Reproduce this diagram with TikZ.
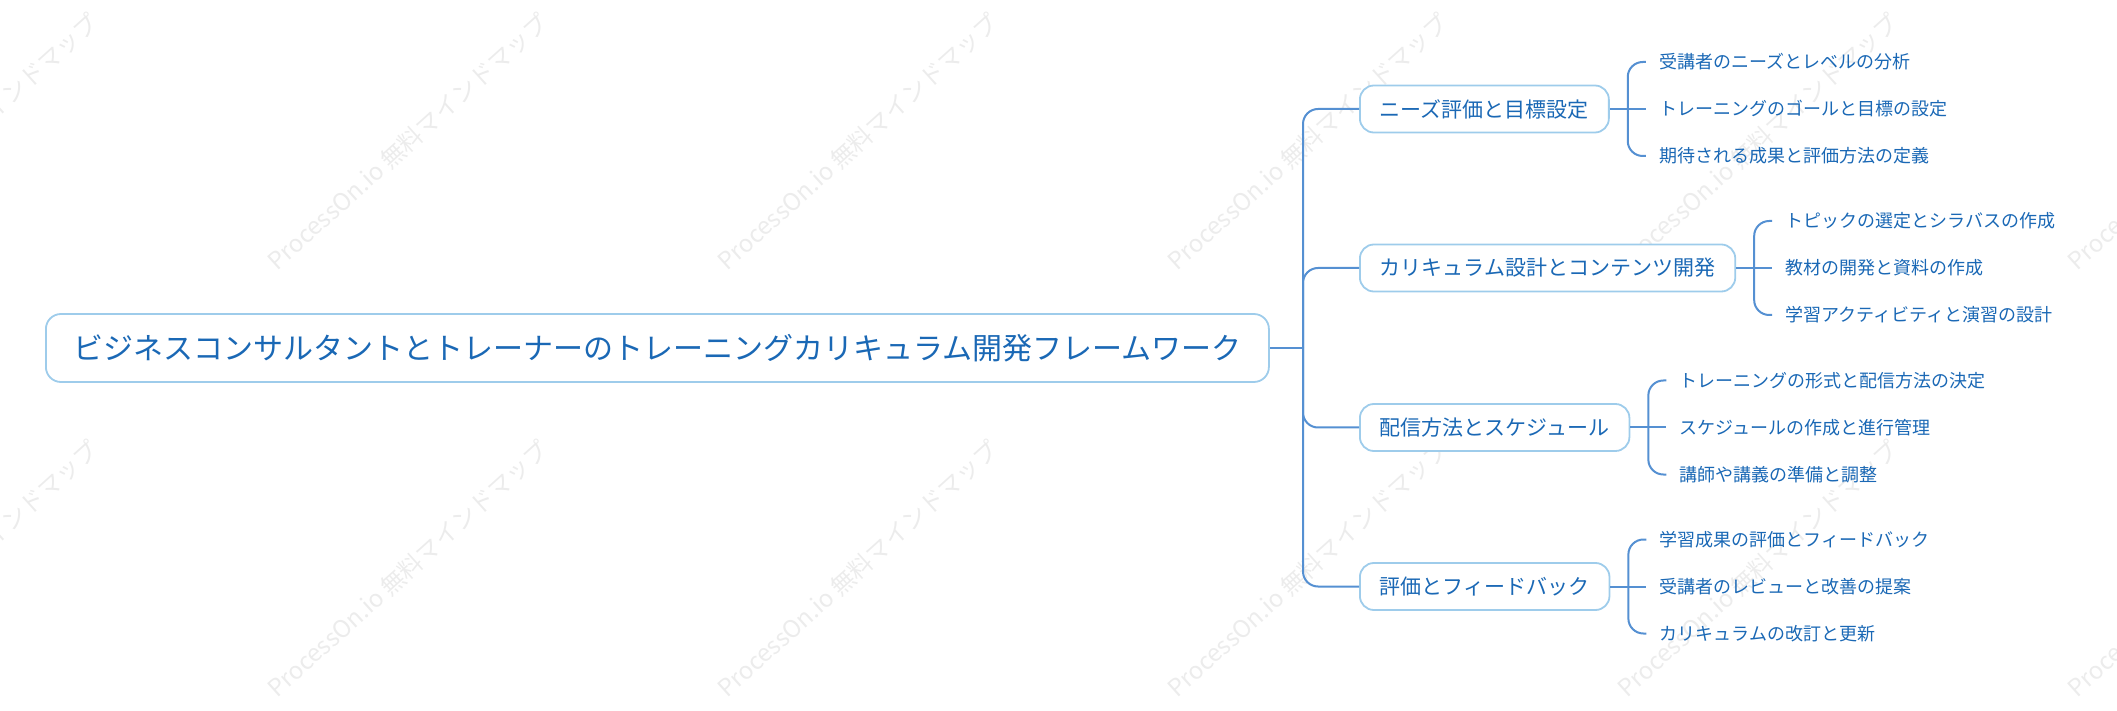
\documentclass[tikz,border=0pt]{standalone}
\usepackage{fontspec}
\setmainfont{Noto Sans CJK JP}
\usetikzlibrary{calc}
\definecolor{txtblue}{HTML}{1A68B5}
\definecolor{lineblue}{HTML}{5590D2}
\definecolor{boxblue}{HTML}{9ECCEB}
\definecolor{wmgray}{HTML}{ECECEC}
\newcommand\leaftext[1]{\raisebox{-1.2pt}{#1}}
\tikzset{
  rootbox/.style={draw=boxblue, line width=0.9pt, fill=white, rounded corners=7.5pt,
    text=txtblue, font=\fontsize{15}{18}\selectfont, minimum height=34pt, inner xsep=13pt, anchor=west},
  topicbox/.style={draw=boxblue, line width=0.9pt, fill=white, rounded corners=7pt,
    text=txtblue, font=\fontsize{10.5}{13}\selectfont, minimum height=23.5pt, inner xsep=10pt, anchor=west},
  leaf/.style={text=txtblue, font=\fontsize{9}{11}\selectfont, inner xsep=6.5pt, inner ysep=2pt, anchor=west},
  conn/.style={draw=lineblue, line width=1pt, rounded corners=7.5pt},
  wm/.style={text=wmgray, font=\fontsize{12}{14}\selectfont, rotate=42, anchor=base west, inner sep=0pt}
}
\begin{document}
\begin{tikzpicture}[x=0.5pt, y=-0.5pt]
\useasboundingbox (0,0) rectangle (2117,711);
% watermarks
\foreach \cx in {-173,277,727,1177,1627,2077}{
  \foreach \cy in {272,699}{
    \node[wm] (wm-\cx-\cy) at (\cx,\cy) {ProcessOn.io 無料マインドマップ};
  }
}
% root
\node[rootbox, minimum width=611.5pt] (root) at (45,348) {ビジネスコンサルタントとトレーナーのトレーニングカリキュラム開発フレームワーク};
% topics
\node[topicbox] (n1) at (1359,109) {ニーズ評価と目標設定};
\node[topicbox] (n2) at (1359,268) {カリキュラム設計とコンテンツ開発};
\node[topicbox] (n3) at (1359,427.5) {配信方法とスケジュール};
\node[topicbox] (n4) at (1359,586.5) {評価とフィードバック};
% trunk
\coordinate (tr) at (1303,348);
\draw[conn] (root.east) -- (tr);
\foreach \n in {n1,n2,n3,n4}{ \draw[conn] (tr) |- (\n.west); }
% leaves
\node[leaf] (l11) at ($(n1.east)+(36,-47)$) {\leaftext{受講者のニーズとレベルの分析}};
\node[leaf] (l12) at ($(n1.east)+(36,0)$) {\leaftext{トレーニングのゴールと目標の設定}};
\node[leaf] (l13) at ($(n1.east)+(36,47)$) {\leaftext{期待される成果と評価方法の定義}};
\node[leaf] (l21) at ($(n2.east)+(36,-47)$) {\leaftext{トピックの選定とシラバスの作成}};
\node[leaf] (l22) at ($(n2.east)+(36,0)$) {\leaftext{教材の開発と資料の作成}};
\node[leaf] (l23) at ($(n2.east)+(36,47)$) {\leaftext{学習アクティビティと演習の設計}};
\node[leaf] (l31) at ($(n3.east)+(36,-47)$) {\leaftext{トレーニングの形式と配信方法の決定}};
\node[leaf] (l32) at ($(n3.east)+(36,0)$) {\leaftext{スケジュールの作成と進行管理}};
\node[leaf] (l33) at ($(n3.east)+(36,47)$) {\leaftext{講師や講義の準備と調整}};
\node[leaf] (l41) at ($(n4.east)+(36,-47)$) {\leaftext{学習成果の評価とフィードバック}};
\node[leaf] (l42) at ($(n4.east)+(36,0)$) {\leaftext{受講者のレビューと改善の提案}};
\node[leaf] (l43) at ($(n4.east)+(36,47)$) {\leaftext{カリキュラムの改訂と更新}};
% brackets
\foreach \g in {1,2,3,4}{
  \coordinate (b\g) at ($(n\g.east)+(18,0)$);
  \draw[conn] (n\g.east) -- (l\g2.west);
  \draw[conn] (l\g1.west) -| (b\g) |- (l\g3.west);
}
\end{tikzpicture}
\end{document}
